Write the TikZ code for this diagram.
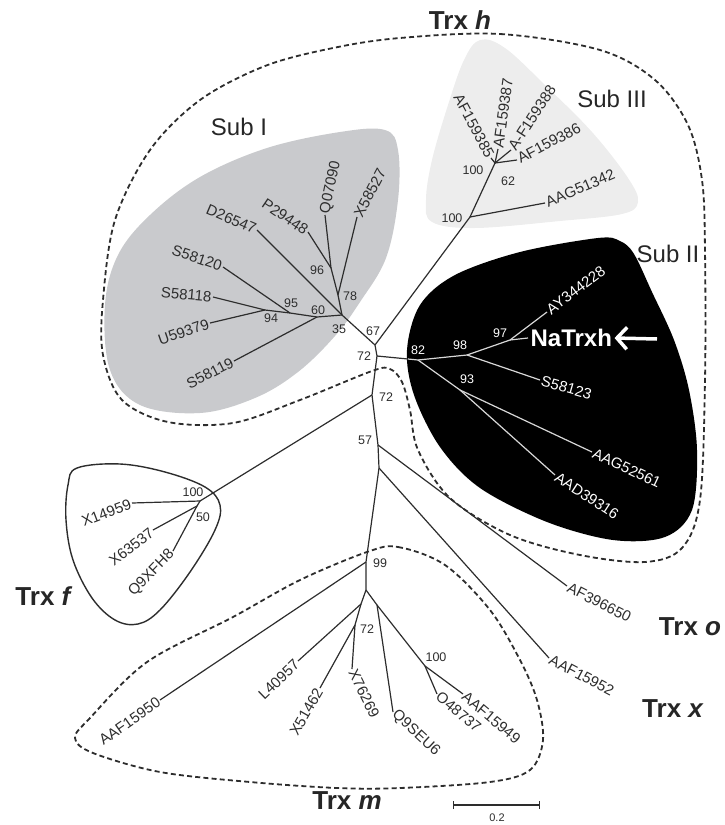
\documentclass[tikz,border=0pt]{standalone}
\usepackage{fontspec}
\setmainfont{Liberation Sans}
\usetikzlibrary{arrows.meta}

\definecolor{subIgray}{RGB}{201,202,205}
\definecolor{subIIIgray}{RGB}{237,237,237}
\definecolor{twiggray}{RGB}{45,45,45}
\definecolor{twiglight}{RGB}{215,215,215}

\tikzset{
  twig/.style={draw=twiggray, line width=1.2pt, line join=round},
  twigW/.style={draw=twiglight, line width=1.2pt, line join=round},
  leaf/.style={font=\fontsize{15}{15}\selectfont, text=twiggray, inner sep=1pt},
  leafL/.style={leaf, anchor=east},
  leafR/.style={leaf, anchor=west},
  boot/.style={font=\fontsize{12.5}{12.5}\selectfont, text=twiggray, inner sep=0pt},
  clade/.style={font=\fontsize{26}{26}\selectfont\bfseries, text=black!85},
  subname/.style={font=\fontsize{24}{24}\selectfont, text=black!85},
  hull/.style={dash pattern=on 5pt off 3.2pt, line width=1.8pt, draw=twiggray},
}

\begin{document}
\begin{tikzpicture}[x=1pt,y=-1pt]
  \useasboundingbox (0,0) rectangle (724,825);

  \fill[subIgray] plot[smooth cycle, tension=0.6] coordinates {
    (150,215) (200,177) (267,148) (340,132) (385,130) (398,150) (398,200)
    (386,258) (360,302) (335,336) (298,372) (255,398) (200,413) (140,405)
    (110,370) (105,305) (118,255)};
  \fill[subIIIgray] plot[smooth cycle, tension=0.6] coordinates {
    (480,40) (505,48) (545,85) (592,132) (628,178) (638,202) (622,214)
    (560,221) (475,228) (432,222) (426,200) (432,160) (448,105) (464,60)};
  \fill[black] plot[smooth cycle, tension=0.55] coordinates {
    (598,238) (620,241) (634,254) (652,292) (674,340) (689,390) (697,450)
    (692,510) (665,537) (613,540) (547,522) (480,488) (440,447) (414,395)
    (407,350) (420,305) (455,275) (520,252)};

  \draw[hull] plot[smooth cycle, tension=0.55] coordinates {
    (400,38) (500,34) (600,50) (655,80) (688,125) (702,180) (705,250)
    (705,380) (700,500) (682,548) (645,562) (580,555) (510,535) (450,498)
    (418,450) (410,410) (402,382) (390,369) (372,371) (300,400) (233,423)
    (168,422) (122,400) (103,355) (103,300) (115,220) (150,150) (200,100)
    (265,66) (333,48)};
  \draw[hull] plot[smooth cycle, tension=0.55] coordinates {
    (367,552) (398,547) (445,565) (490,610) (520,660) (537,700) (543,740)
    (530,770) (490,782) (400,788) (337,788) (250,782) (160,772) (93,753)
    (75,738) (90,718) (147,662) (233,617) (300,580)};
  \draw[twiggray, line width=1.4pt] plot[smooth cycle, tension=0.6] coordinates {
    (77,468) (120,464) (165,472) (205,487) (220,505) (215,530) (190,572)
    (160,610) (138,624) (115,620) (92,598) (73,560) (66,520) (68,485)};

  \coordinate (nH) at (375,345);
  \coordinate (nT1) at (377,356);
  \coordinate (nT2) at (372,395);
  \coordinate (nT3) at (378,445);
  \coordinate (nT4) at (379,468);
  \coordinate (nT5) at (366,562);
  \coordinate (s1root) at (342,315);
  \coordinate (n78) at (338,295);
  \coordinate (n96) at (331,268);
  \coordinate (n60) at (317,317);
  \coordinate (n95) at (290,313);
  \coordinate (n94) at (265,310);
  \coordinate (s3a) at (470,217);
  \coordinate (s3b) at (495,163);
  \coordinate (n82edge) at (408,359);
  \coordinate (n82) at (418,360);
  \coordinate (n98) at (467,355);
  \coordinate (n97) at (510,340);
  \coordinate (n93) at (460,390);
  \coordinate (fRoot) at (200,501);
  \coordinate (f50) at (197,506);
  \coordinate (m0) at (366,590);
  \coordinate (m1) at (361,604);
  \coordinate (m2) at (355,625);
  \coordinate (m3) at (377,605);
  \coordinate (m4) at (425,666);

  \coordinate (X58527) at (357,217);
  \coordinate (Q07090) at (325,215);
  \coordinate (P29448) at (308,232);
  \coordinate (D26547) at (257,230);
  \coordinate (S58120) at (223,267);
  \coordinate (S58118) at (213,297);
  \coordinate (U59379) at (210,323);
  \coordinate (S58119) at (234,361);
  \coordinate (AAG51342) at (545,203);
  \coordinate (AF159385) at (491,158);
  \coordinate (AF159387) at (498,149);
  \coordinate (AF159388) at (511,150);
  \coordinate (AF159386) at (517,160);
  \coordinate (AY344228) at (547,312);
  \coordinate (NaTrxh) at (528,338);
  \coordinate (S58123) at (540,380);
  \coordinate (AAG52561) at (592,452);
  \coordinate (AAD39316) at (555,475);
  \coordinate (X14959) at (132,503);
  \coordinate (X63537) at (153,530);
  \coordinate (Q9XFH8) at (173,551);
  \coordinate (AF396650) at (567,586);
  \coordinate (AAF15952) at (549,658);
  \coordinate (AAF15950) at (160,700);
  \coordinate (L40957) at (298,661);
  \coordinate (X51462) at (320,688);
  \coordinate (X76269) at (352,669);
  \coordinate (Q9SEU6) at (393,712);
  \coordinate (O48737) at (437,694);
  \coordinate (AAF15949) at (463,694);

  \draw[twig] (nT1) -- (nH) -- (s1root);
  \draw[twig] (nH) -- (s3a);
  \draw[twig] (nT1) -- (n82edge);
  \draw[twigW] (n82edge) -- (n82);
  \draw[twig] (nT1) -- (nT2) -- (nT3) -- (nT4) -- (nT5) -- (m0);
  \draw[twig] (nT2) -- (fRoot);

  \draw[twig] (s1root) -- (n78) -- (X58527) node[leafR, rotate=62] (tX58527) {X58527};
  \draw[twig] (n78) -- (n96) -- (Q07090) node[leafR, rotate=78] (tQ07090) {Q07090};
  \draw[twig] (n96) -- (P29448) node[leafL, rotate=-34] (tP29448) {P29448};
  \draw[twig] (s1root) -- (D26547) node[leafL, rotate=-23] (tD26547) {D26547};
  \draw[twig] (s1root) -- (n60) -- (n95) -- (n94) -- (S58118) node[leafL, rotate=-5] (tS58118) {S58118};
  \draw[twig] (n94) -- (U59379) node[leafL, rotate=19] (tU59379) {U59379};
  \draw[twig] (n95) -- (S58120) node[leafL, rotate=-19] (tS58120) {S58120};
  \draw[twig] (n60) -- (S58119) node[leafL, rotate=27] (tS58119) {S58119};

  \draw[twig] (s3a) -- (AAG51342) node[leafR, rotate=23] (tAAG51342) {AAG51342};
  \draw[twig] (s3a) -- (s3b) -- (AF159386) node[leafR, rotate=28] (tAF159386) {AF159386};
  \draw[twig] (s3b) -- (AF159385) node[leafL, rotate=-62] (tAF159385) {AF159385};
  \draw[twig] (s3b) -- (AF159387) node[leafR, rotate=82] (tAF159387) {AF159387};
  \draw[twig] (s3b) -- (AF159388) node[leafR, rotate=57] (tAF159388) {A-F159388};

  \draw[twigW] (n82) -- (n98) -- (n97) -- (AY344228) node[leafR, text=white, rotate=37] (tAY344228) {AY344228};
  \draw[twigW] (n97) -- (NaTrxh) node[leafR, text=white, font=\fontsize{24}{24}\selectfont\bfseries, inner sep=2pt] (tNaTrxh) {NaTrxh};
  \draw[twigW] (n98) -- (S58123) node[leafR, text=white, rotate=-16] (tS58123) {S58123};
  \draw[twigW] (n82) -- (n93) -- (AAG52561) node[leafR, text=white, rotate=-25] (tAAG52561) {AAG52561};
  \draw[twigW] (n93) -- (AAD39316) node[leafR, text=white, rotate=-33] (tAAD39316) {AAD39316};

  \draw[twig] (fRoot) -- (X14959) node[leafL, rotate=21] (tX14959) {X14959};
  \draw[twig] (fRoot) -- (f50) -- (X63537) node[leafL, rotate=38] (tX63537) {X63537};
  \draw[twig] (f50) -- (Q9XFH8) node[leafL, rotate=46] (tQ9XFH8) {Q9XFH8};

  \draw[twig] (nT3) -- (AF396650) node[leafR, rotate=-27] (tAF396650) {AF396650};
  \draw[twig] (nT4) -- (AAF15952) node[leafR, rotate=-28] (tAAF15952) {AAF15952};
  \draw[twig] (nT5) -- (AAF15950) node[leafL, rotate=35] (tAAF15950) {AAF15950};

  \draw[twig] (m0) -- (m1) -- (L40957) node[leafL, rotate=44] (tL40957) {L40957};
  \draw[twig] (m1) -- (m2) -- (X51462) node[leafL, rotate=60] (tX51462) {X51462};
  \draw[twig] (m2) -- (X76269) node[leafR, rotate=-64] (tX76269) {X76269};
  \draw[twig] (m0) -- (m3) -- (Q9SEU6) node[leafR, rotate=-43] (tQ9SEU6) {Q9SEU6};
  \draw[twig] (m3) -- (m4) -- (O48737) node[leafR, rotate=-40] (tO48737) {O48737};
  \draw[twig] (m4) -- (AAF15949) node[leafR, rotate=-40] (tAAF15949) {AAF15949};

  \coordinate (arrTail) at (657,339);
  \draw[white, line width=3.5pt, -{Straight Barb[length=10pt, width=22pt]}] (arrTail) -- (tNaTrxh.east);

  \node[boot] (b67) at (373,331) {67};
  \node[boot] (b72a) at (364,356) {72};
  \node[boot] (b72b) at (386,397) {72};
  \node[boot] (b57) at (365,440) {57};
  \node[boot] (b99) at (380,563) {99};
  \node[boot] (b72m) at (367,629) {72};
  \node[boot] (b100m) at (436,657) {100};
  \node[boot, text=white] (b82) at (418,350) {82};
  \node[boot, text=white] (b98) at (460,345) {98};
  \node[boot, text=white] (b97) at (500,333) {97};
  \node[boot, text=white] (b93) at (467,379) {93};
  \node[boot] (b100s) at (452,218) {100};
  \node[boot] (b100t) at (473,170) {100};
  \node[boot] (b62) at (508,181) {62};
  \node[boot] (b96) at (317,270) {96};
  \node[boot] (b78) at (350,296) {78};
  \node[boot] (b95) at (291,303) {95};
  \node[boot] (b94) at (271,318) {94};
  \node[boot] (b60) at (318,310) {60};
  \node[boot] (b35) at (339,329) {35};
  \node[boot] (b100f) at (193,492) {100};
  \node[boot] (b50) at (203,517) {50};

  \node[clade] (cH) at (460,20) {Trx \textit{h}};
  \node[clade] (cF) at (44,596) {Trx \textit{f}};
  \node[clade] (cO) at (690,627) {Trx \textit{o}};
  \node[clade] (cX) at (673,709) {Trx \textit{x}};
  \node[clade] (cM) at (347,801) {Trx \textit{m}};
  \node[subname] (sI) at (239,127) {Sub I};
  \node[subname] (sIII) at (612,99) {Sub III};
  \node[subname] (sII) at (668,254) {Sub II};

  \coordinate (sbL) at (453,805);
  \coordinate (sbR) at (540,805);
  \draw[twig, {Bar[width=8pt]}-{Bar[width=8pt]}] (sbL) -- (sbR);
  \node[font=\fontsize{11}{11}\selectfont, text=twiggray] (sbText) at (497,818) {0.2};
\end{tikzpicture}
\end{document}
